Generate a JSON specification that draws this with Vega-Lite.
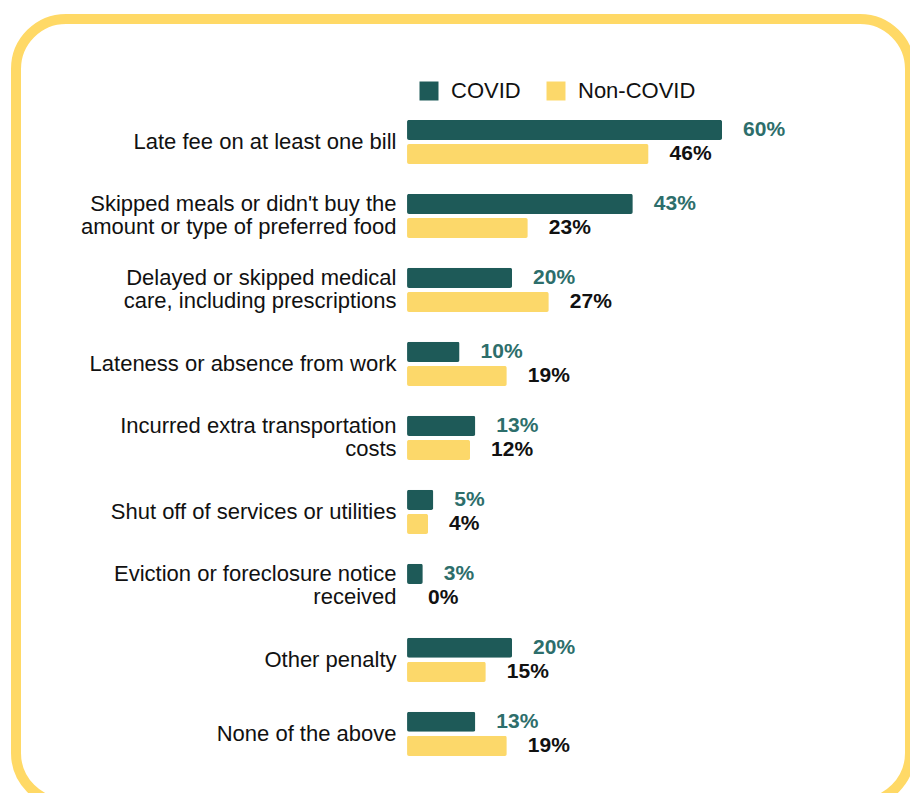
{
  "$schema": "https://vega.github.io/schema/vega-lite/v6.json",
  "autosize": {"type": "none"},
  "padding": {"left": 16, "top": 19, "right": 0, "bottom": -10},
  "width": 894,
  "height": 784,
  "background": "white",
  "config": {
    "view": {"stroke": "#FFD966", "strokeWidth": 10, "cornerRadius": 50, "fill": "white"},
    "font": "Liberation Sans"
  },
  "data": {
    "values": [
      {"item": "Late fee on at least one bill", "group": "COVID", "share": 0.60},
      {"item": "Late fee on at least one bill", "group": "Non-COVID", "share": 0.46},
      {"item": "Skipped meals or didn't buy the|amount or type of preferred food", "group": "COVID", "share": 0.43},
      {"item": "Skipped meals or didn't buy the|amount or type of preferred food", "group": "Non-COVID", "share": 0.23},
      {"item": "Delayed or skipped medical|care, including prescriptions", "group": "COVID", "share": 0.20},
      {"item": "Delayed or skipped medical|care, including prescriptions", "group": "Non-COVID", "share": 0.27},
      {"item": "Lateness or absence from work", "group": "COVID", "share": 0.10},
      {"item": "Lateness or absence from work", "group": "Non-COVID", "share": 0.19},
      {"item": "Incurred extra transportation|costs", "group": "COVID", "share": 0.13},
      {"item": "Incurred extra transportation|costs", "group": "Non-COVID", "share": 0.12},
      {"item": "Shut off of services or utilities", "group": "COVID", "share": 0.05},
      {"item": "Shut off of services or utilities", "group": "Non-COVID", "share": 0.04},
      {"item": "Eviction or foreclosure notice|received", "group": "COVID", "share": 0.03},
      {"item": "Eviction or foreclosure notice|received", "group": "Non-COVID", "share": 0.00},
      {"item": "Other penalty", "group": "COVID", "share": 0.20},
      {"item": "Other penalty", "group": "Non-COVID", "share": 0.15},
      {"item": "None of the above", "group": "COVID", "share": 0.13},
      {"item": "None of the above", "group": "Non-COVID", "share": 0.19}
    ]
  },
  "encoding": {
    "y": {
      "field": "item",
      "type": "nominal",
      "sort": null,
      "scale": {"paddingInner": 0.4024, "paddingOuter": 1.0255, "align": 0.682},
      "axis": {
        "title": null,
        "orient": "left",
        "offset": -391,
        "ticks": false,
        "domain": false,
        "labelPadding": 11,
        "labelFont": "Liberation Sans",
        "labelFontSize": 22,
        "labelColor": "#111111",
        "labelLineHeight": 23,
        "labelLimit": 400,
        "labelOffset": {"expr": "indexof(datum.value, '|') >= 0 ? -11.5 : 0"},
        "labelExpr": "split(datum.label, '|')"
      }
    },
    "yOffset": {
      "field": "group",
      "type": "nominal",
      "sort": ["COVID", "Non-COVID"],
      "scale": {"paddingInner": 0.1667, "paddingOuter": 0}
    },
    "x": {
      "field": "share",
      "type": "quantitative",
      "scale": {"domain": [-0.7448, 0.958], "nice": false, "zero": false},
      "axis": null
    }
  },
  "layer": [
    {
      "mark": {"type": "bar", "cornerRadius": 2},
      "encoding": {
        "color": {
          "field": "group",
          "type": "nominal",
          "scale": {"domain": ["COVID", "Non-COVID"], "range": ["#1E5A58", "#FCD86A"]},
          "legend": {
            "title": null,
            "orient": "none",
            "direction": "horizontal",
            "legendX": 402,
            "legendY": 61,
            "symbolType": "square",
            "symbolSize": 361,
            "symbolStrokeWidth": 0,
            "symbolOpacity": 1,
            "labelFont": "Liberation Sans",
            "labelFontSize": 22,
            "labelColor": "#111111",
            "labelOffset": 11,
            "columnPadding": 24,
            "padding": 0
          }
        }
      }
    },
    {
      "mark": {"type": "text", "align": "left", "baseline": "middle", "dx": 21, "fontSize": 21, "fontWeight": "bold", "font": "Liberation Sans"},
      "encoding": {
        "text": {"field": "share", "type": "quantitative", "format": ".0%"},
        "color": {
          "condition": {"test": "datum.group === 'COVID'", "value": "#2D6E6B"},
          "value": "#111111"
        }
      }
    }
  ]
}
